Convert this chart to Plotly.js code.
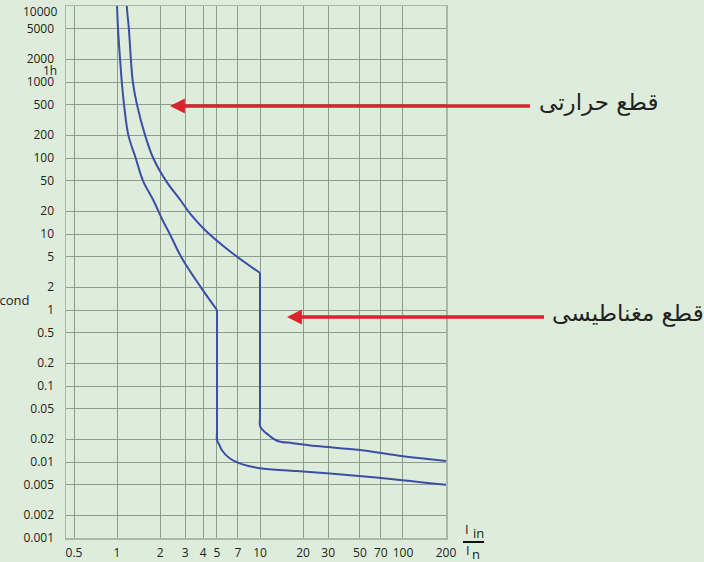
<!DOCTYPE html>
<html>
<head>
<meta charset="utf-8">
<script src="https://cdn.plot.ly/plotly-3.0.1.min.js"></script>
<style>html,body{margin:0;padding:0;background:#deeddb;}#chart{width:704px;height:562px;}</style>
</head>
<body>
<div id="chart"></div>
<script>
// Tick values and labels
const xTickVals = [0.5, 1, 2, 3, 4, 5, 7, 10, 20, 30, 50, 70, 100, 200];
const xTickText = ['0.5', '1', '2', '3', '4', '5', '7', '10', '20', '30', '50', '70', '100', '200'];
const yTickVals = [10000, 5000, 2000, 1000, 500, 200, 100, 50, 20, 10, 5, 2, 1, 0.5, 0.2, 0.1, 0.05, 0.02, 0.01, 0.005, 0.002, 0.001];
const yTickText = ['', '5000', '2000', '1000', '500', '200', '100', '50', '20', '10', '5', '2', '1', '0.5', '0.2', '0.1', '0.05', '0.02', '0.01', '0.005', '0.002', '0.001'];
const yTopLabel = '10000';

// Lower (fast) tripping curve: thermal part, vertical magnetic drop, low tail
const lowThermalX = [0.99, 1.0, 1.016, 1.05, 1.08, 1.12, 1.2, 1.35, 1.52, 1.79, 2.08, 2.34, 2.81, 3.85, 5];
const lowThermalY = [20000, 10000, 5000, 2000, 1000, 500, 200, 100, 50, 28, 15.3, 10, 5, 2, 1];
const lowDropX = [5, 5];
const lowDropY = [1, 0.0195];
const lowTailX = [5, 5, 5.2, 5.4, 6.1, 7.55, 10, 18, 39, 88.7, 200];
const lowTailY = [0.024, 0.0195, 0.0168, 0.0144, 0.0113, 0.0093, 0.0083, 0.0076, 0.0068, 0.0059, 0.005];

// Upper (slow) tripping curve: thermal part, vertical magnetic drop, low tail
const highThermalX = [1.16, 1.17, 1.21, 1.25, 1.29, 1.38, 1.57, 1.79, 2.2, 2.77, 3.3, 4.12, 6.25, 10];
const highThermalY = [20000, 10000, 5000, 2000, 1000, 500, 200, 100, 50, 28, 17.8, 11.3, 5.8, 3.07];
const highDropX = [10, 10];
const highDropY = [3.07, 0.039];
const highTailX = [10, 10, 10.06, 11.5, 13.3, 17, 24.9, 50, 100, 200];
const highTailY = [0.05, 0.039, 0.029, 0.0226, 0.0189, 0.0177, 0.0162, 0.0144, 0.0119, 0.0103];

// Text labels
const thermalLabel = 'قطع حرارتی';
const magneticLabel = 'قطع مغناطیسی';
const yTitle = 'Second';
const hourLabel = '1h';

const curveColor = '#3b4fa6';
const arrowColor = '#d9232e';

function curve(x, y, shape) {
  return {x: x, y: y, mode: 'lines', line: {color: curveColor, width: 2, shape: shape, smoothing: 1},
          hoverinfo: 'skip', showlegend: false};
}
const traces = [
  curve(lowThermalX, lowThermalY, 'spline'), curve(lowDropX, lowDropY, 'linear'), curve(lowTailX, lowTailY, 'spline'),
  curve(highThermalX, highThermalY, 'spline'), curve(highDropX, highDropY, 'linear'), curve(highTailX, highTailY, 'spline')
];

const W = 380, H = 532, L = 66, T = 6;
const px = v => (v - L) / W;
const py = v => (T + H - v) / H;
const txt = {family: 'Open Sans, sans-serif', size: 12, color: '#222'};

const layout = {
  width: 704, height: 562,
  margin: {l: 66, r: 258, t: 6, b: 24, pad: 0},
  paper_bgcolor: '#deeddb',
  plot_bgcolor: '#deeddb',
  font: {family: 'Open Sans, Noto Sans, sans-serif', size: 12, color: '#222'},
  xaxis: {
    type: 'log', range: [-0.357, 2.301],
    tickvals: xTickVals, ticktext: xTickText,
    showgrid: true, gridcolor: '#8d9d8b', gridwidth: 1,
    showline: true, mirror: true, linecolor: '#a9b8a7', linewidth: 1.5,
    ticks: '', ticklabelstandoff: 3, zeroline: false,
    tickfont: txt
  },
  yaxis: {
    type: 'log', range: [-3, 4],
    tickvals: yTickVals, ticktext: yTickText,
    showgrid: true, gridcolor: '#8d9d8b', gridwidth: 1,
    showline: true, mirror: true, linecolor: '#a9b8a7', linewidth: 1.5,
    ticks: '', ticklabelstandoff: 8, zeroline: false,
    tickfont: txt
  },
  annotations: [
    {xref: 'paper', yref: 'paper', x: px(59), y: py(12), xanchor: 'right', yanchor: 'middle',
     text: yTopLabel, showarrow: false, font: txt},
    {xref: 'paper', yref: 'paper', x: px(31), y: py(300), xanchor: 'right', yanchor: 'middle',
     text: yTitle, showarrow: false, font: {family: 'Open Sans, sans-serif', size: 13, color: '#222'}},
    {xref: 'paper', yref: 'paper', x: px(59), y: py(70), xanchor: 'right', yanchor: 'middle',
     text: hourLabel, showarrow: false, font: txt},
    {xref: 'paper', yref: 'paper', x: px(467), y: py(529), xanchor: 'center', yanchor: 'middle',
     text: 'I', showarrow: false, font: {size: 13, color: '#222'}},
    {xref: 'paper', yref: 'paper', x: px(478), y: py(533), xanchor: 'center', yanchor: 'middle',
     text: 'in', showarrow: false, font: {size: 13, color: '#222'}},
    {xref: 'paper', yref: 'paper', x: px(468), y: py(550), xanchor: 'center', yanchor: 'middle',
     text: 'I', showarrow: false, font: {size: 13, color: '#222'}},
    {xref: 'paper', yref: 'paper', x: px(476), y: py(554), xanchor: 'center', yanchor: 'middle',
     text: 'n', showarrow: false, font: {size: 13, color: '#222'}},
    {xref: 'paper', yref: 'paper', x: px(537), y: py(103), xanchor: 'left', yanchor: 'middle',
     text: thermalLabel, showarrow: false, font: {family: 'DejaVu Sans, sans-serif', size: 23, color: '#222'}},
    {xref: 'paper', yref: 'paper', x: px(550), y: py(313), xanchor: 'left', yanchor: 'middle',
     text: magneticLabel, showarrow: false, font: {family: 'DejaVu Sans, sans-serif', size: 23, color: '#222'}},
    {xref: 'paper', yref: 'paper', x: px(170), y: py(106), text: ' ', showarrow: true,
     ax: 363, ay: 0, arrowhead: 2, arrowsize: 0.85, arrowwidth: 3.5, arrowcolor: arrowColor, standoff: 0, startstandoff: 0},
    {xref: 'paper', yref: 'paper', x: px(287), y: py(317), text: ' ', showarrow: true,
     ax: 260, ay: 0, arrowhead: 2, arrowsize: 0.85, arrowwidth: 3.5, arrowcolor: arrowColor, standoff: 0, startstandoff: 0}
  ],
  shapes: [
    {type: 'line', xref: 'paper', yref: 'paper', x0: px(463), x1: px(484), y0: py(542), y1: py(542),
     line: {color: '#111', width: 2}}
  ]
};

Plotly.newPlot('chart', traces, layout, {displayModeBar: false, staticPlot: true});
</script>
</body>
</html>
